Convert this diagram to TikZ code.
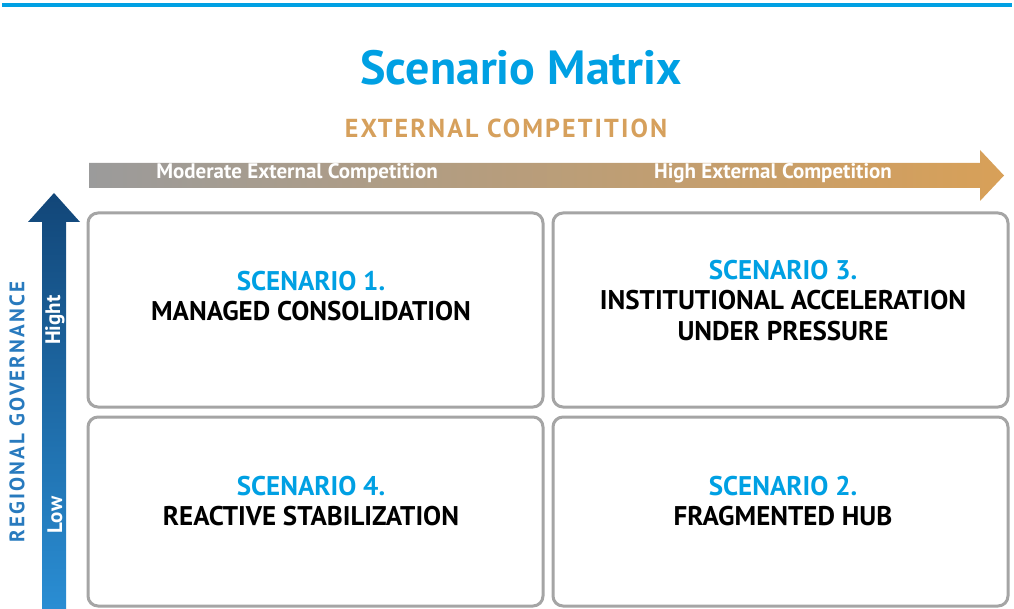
\documentclass[tikz,border=0pt]{standalone}
\usepackage{fontspec}
\setmainfont{PT Sans}
\definecolor{topblue}{RGB}{0,160,227}
\definecolor{tan}{RGB}{214,160,92}
\definecolor{hgray}{RGB}{155,155,155}
\definecolor{horange}{RGB}{216,160,88}
\definecolor{vdark}{RGB}{18,70,120}
\definecolor{vlight}{RGB}{42,142,212}
\definecolor{govblue}{RGB}{40,122,190}
\definecolor{boxgray}{RGB}{165,165,165}
\tikzset{
  quad/.style={draw=boxgray, line width=3pt, rounded corners=10pt, fill=white},
  scen/.style={font=\bfseries\fontsize{27}{31}\selectfont, text=topblue, inner sep=0pt, anchor=center},
  scentitle/.style={font=\bfseries\fontsize{27}{31}\selectfont, text=black, inner sep=0pt, align=center, anchor=center},
  axlabel/.style={font=\bfseries\fontsize{21}{23}\selectfont, text=white, inner sep=0pt},
}
\begin{document}
\begin{tikzpicture}[x=1pt,y=-1pt]
\useasboundingbox (0,0) rectangle (1014,609);
% top line
\fill[topblue] (2,3) rectangle (1012,7);
% title
\node[font=\bfseries\fontsize{48}{54}\selectfont, text=topblue, inner sep=0pt] (title) at (521,68) {Scenario Matrix};
\node[font=\bfseries\fontsize{26}{28}\selectfont\addfontfeatures{LetterSpace=8}, text=tan, inner sep=0pt] (xaxis) at (506,128) {EXTERNAL COMPETITION};
% horizontal arrow
\shade[left color=hgray, right color=horange]
  (89,163) -- (980,163) -- (980,150) -- (1004,175.5) -- (980,201) -- (980,188) -- (89,188) -- cycle;
\node[axlabel] (hmod) at (297,173) {Moderate External Competition};
\node[axlabel] (hhigh) at (773,173) {High External Competition};
% vertical arrow
\shade[top color=vdark, bottom color=vlight]
  (42,612) -- (42,222) -- (28,222) -- (54,193) -- (80,222) -- (66,222) -- (66,612) -- cycle;
\node[axlabel, rotate=90] (vhigh) at (55,320) {Hight};
\node[axlabel, rotate=90] (vlow) at (55,515) {Low};
\node[font=\bfseries\fontsize{21}{23}\selectfont\addfontfeatures{LetterSpace=10}, text=govblue, inner sep=0pt, rotate=90] (yaxis) at (17,412) {REGIONAL GOVERNANCE};
% quadrants
\draw[quad] (88,213) rectangle (543,407);
\draw[quad] (553,213) rectangle (1008,407);
\draw[quad] (88,417) rectangle (543,606);
\draw[quad] (553,417) rectangle (1008,606);
% texts
\node[scen] (s1) at (311,281) {SCENARIO 1.};
\node[scentitle] (t1) at (311,311) {MANAGED CONSOLIDATION};
\node[scen] (s3) at (783,270) {SCENARIO 3.};
\node[scentitle] (t3) at (783,316) {INSTITUTIONAL ACCELERATION\\UNDER PRESSURE};
\node[scen] (s4) at (311,486) {SCENARIO 4.};
\node[scentitle] (t4) at (311,516) {REACTIVE STABILIZATION};
\node[scen] (s2) at (783,486) {SCENARIO 2.};
\node[scentitle] (t2) at (783,516) {FRAGMENTED HUB};
\end{tikzpicture}
\end{document}
